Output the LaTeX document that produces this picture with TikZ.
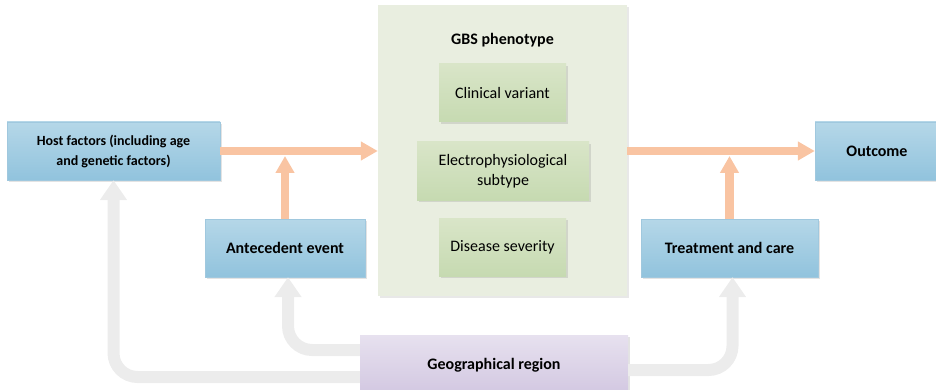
\documentclass[tikz,border=0pt]{standalone}
\usepackage{fontspec}
\setmainfont{Carlito}
\usetikzlibrary{arrows.meta,shadows}

\definecolor{blueTop}{RGB}{181,215,232}
\definecolor{blueBot}{RGB}{145,195,221}
\definecolor{blueEdge}{RGB}{160,200,222}
\definecolor{phenoFill}{RGB}{233,238,224}
\definecolor{greenTop}{RGB}{217,229,200}
\definecolor{greenBot}{RGB}{198,218,177}
\definecolor{geoTop}{RGB}{231,225,239}
\definecolor{geoBot}{RGB}{210,199,225}
\definecolor{salmon}{RGB}{249,196,162}
\definecolor{paleGray}{RGB}{236,236,236}

\begin{document}
\begin{tikzpicture}[
  x=1pt,y=-1pt,
  font=\fontsize{16}{20}\selectfont,
  base/.style={align=center, inner sep=3pt, minimum height=58pt,
    drop shadow={shadow xshift=2pt, shadow yshift=-2pt, opacity=0.22}},
  bluebox/.style={base, top color=blueTop, bottom color=blueBot, draw=blueEdge, line width=0.4pt, font=\fontsize{16}{20}\selectfont\bfseries},
  greenbox/.style={base, top color=greenTop, bottom color=greenBot, minimum width=127pt},
  phenobox/.style={fill=phenoFill, minimum width=249pt, minimum height=291pt,
    drop shadow={shadow xshift=2pt, shadow yshift=-2pt, opacity=0.18}},
  regionbox/.style={base, top color=geoTop, bottom color=geoBot, minimum width=268pt, minimum height=60pt, font=\fontsize{16}{20}\selectfont\bfseries},
  arr/.style={draw=salmon, line width=8.5pt, -{Triangle[length=17pt,width=18pt]}},
  garr/.style={draw=paleGray, line width=12pt, rounded corners=24pt, -{Triangle[length=20pt,width=26pt]}}
]
\useasboundingbox (0,0) rectangle (936,390);

% phenotype panel
\node[phenobox] (pheno) at (502.5,150.5) {};
\node[font=\fontsize{16}{20}\selectfont\bfseries] (title) at (502.5,40) {GBS phenotype};
\node[greenbox] (clin) at (502.5,93) {Clinical variant};
\node[greenbox, minimum width=172pt] (elec) at (503,171) {Electrophysiological\\subtype};
\node[greenbox] (sev) at (502.5,247) {Disease severity};

% outer boxes
\node[bluebox, minimum width=213pt, font=\fontsize{14}{20}\selectfont\bfseries] (host) at (113.5,151) {Host factors (including age\\and genetic factors)};
\node[bluebox, minimum width=160pt] (antec) at (285,248) {Antecedent event};
\node[bluebox, minimum width=177pt] (treat) at (729.5,248) {Treatment and care};
\node[bluebox, minimum width=124pt] (outcome) at (877,151) {Outcome};
\node[regionbox] (region) at (494,365) {Geographical region};

% geography arrows
\draw[garr] ([yshift=-12pt]region.west) -| (host.south);
\draw[garr] ([yshift=15pt]region.west) -| ([xshift=3pt]antec.south);
\draw[garr] ([yshift=-5pt]region.east) -| ([xshift=3pt]treat.south);

% causal arrows
\draw[arr] (host.east) -- (host.east -| pheno.west); \draw[arr, shorten >=5pt] (antec.north) -- (antec.north |- host.east);
\draw[arr] (pheno.east |- outcome.west) -- (outcome.west); \draw[arr, shorten >=5pt] (treat.north) -- (treat.north |- outcome.west);
\end{tikzpicture}
\end{document}
